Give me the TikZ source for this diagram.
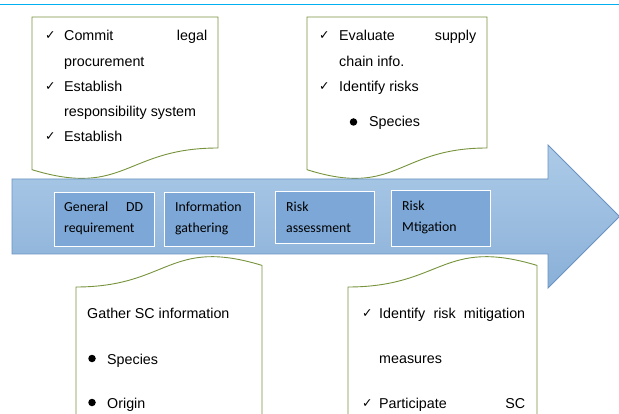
\documentclass[tikz,border=0pt]{standalone}
\usepackage{fontspec}
\setmainfont{Liberation Sans}
\newfontfamily\boxfont{Carlito}
\newfontfamily\symfont{DejaVu Sans}
\definecolor{docgreen}{HTML}{77933C}
\definecolor{topline}{HTML}{00B0F0}
\definecolor{arrowtop}{HTML}{ADCBE8}
\definecolor{arrowbot}{HTML}{8AB0D8}
\definecolor{arrowedge}{HTML}{6A93C2}
\definecolor{stepfill}{HTML}{7CA7D6}
\begin{document}
\begin{tikzpicture}[x=1pt,y=-1pt,
  doc/.style={draw=docgreen, line width=0.9pt, fill=white},
  txt/.style={anchor=base west, inner sep=0pt, font=\fontsize{14.3}{17}\selectfont},
  boxtxt/.style={anchor=base west, inner sep=0pt, font=\boxfont\fontsize{13.8}{16}\selectfont},
  chk/.style={anchor=base west, inner sep=0pt, font=\symfont\fontsize{12.5}{14}\selectfont},
  dot/.style={circle, fill=black, inner sep=0pt, minimum size=7.5pt},
  stepbox/.style={draw=white, line width=0.9pt, fill=stepfill}]
\useasboundingbox (0,0) rectangle (619,414);
\fill[white] (0,0) rectangle (619,414);
% top rule
\draw[topline, line width=1pt] (0,4.5) -- (619,4.5);
% top documents
\draw[doc] (32,17) -- (218,17) -- (218,148) .. controls (125,148) and (125,198) .. (32,169.7) -- cycle;
\draw[doc] (307,17) -- (487,17) -- (487,148) .. controls (397,148) and (397,198) .. (307,169.7) -- cycle;
% bottom documents
\draw[doc] (76,420) -- (76,287) .. controls (169,287) and (169,237) .. (262,265.4) -- (262,420);
\draw[doc] (348,420) -- (348,287) .. controls (442.5,287) and (442.5,237) .. (537,265.4) -- (537,420);
% main arrow
\draw[draw=arrowedge, line width=0.9pt, top color=arrowtop, bottom color=arrowbot]
  (12,179) -- (548,179) -- (548,145) -- (619.5,216.5) -- (548,288) -- (548,254) -- (12,254) -- cycle;
% step boxes
\draw[stepbox] (54,192) rectangle (154,246);
\draw[stepbox] (164,192) rectangle (254,246);
\draw[stepbox] (275,191) rectangle (374,243);
\draw[stepbox] (391,190) rectangle (490,246);
\node[boxtxt] (s1a) at (64,212) {\hbox to 79pt{General\hfill DD}};
\node[boxtxt] (s1b) at (64,233) {requirement};
\node[boxtxt] (s2a) at (175,212) {Information};
\node[boxtxt] (s2b) at (175,233) {gathering};
\node[boxtxt] (s3a) at (286,212) {Risk};
\node[boxtxt] (s3b) at (286,233) {assessment};
\node[boxtxt] (s4a) at (402,211) {Risk};
\node[boxtxt] (s4b) at (402,232) {Mtigation};
% top-left doc text
\node[chk] (c1) at (45,40) {✓};
\node[txt] (t1a) at (64,41) {\hbox to 143pt{Commit\hfill legal}};
\node[txt] (t1b) at (64,67) {procurement};
\node[chk] (c2) at (45,91) {✓};
\node[txt] (t1c) at (64,92) {Establish};
\node[txt] (t1d) at (64,117) {responsibility system};
\node[chk] (c3) at (45,141) {✓};
\node[txt] (t1e) at (64,142) {Establish};
% top-right doc text
\node[chk] (c4) at (319,40) {✓};
\node[txt] (t2a) at (339,41) {\hbox to 137pt{Evaluate\hfill supply}};
\node[txt] (t2b) at (339,67) {chain info.};
\node[chk] (c5) at (319,91) {✓};
\node[txt] (t2c) at (339,92) {Identify risks};
\node[dot] (d1) at (353.5,122) {};
\node[txt] (t2d) at (369,127) {Species};
% bottom-left doc text
\node[txt] (t3a) at (87,319) {Gather SC information};
\node[dot] (d2) at (92,358.5) {};
\node[txt] (t3b) at (107,364) {Species};
\node[dot] (d3) at (92,402.5) {};
\node[txt] (t3c) at (107,408) {Origin};
% bottom-right doc text
\node[chk] (c6) at (362,318) {✓};
\node[txt] (t4a) at (379,319) {\hbox to 146pt{Identify\hfill risk\hfill mitigation}};
\node[txt] (t4b) at (379,363) {measures};
\node[chk] (c7) at (362,407) {✓};
\node[txt] (t4c) at (379,408) {\hbox to 146pt{Participate\hfill SC}};
\end{tikzpicture}
\end{document}
